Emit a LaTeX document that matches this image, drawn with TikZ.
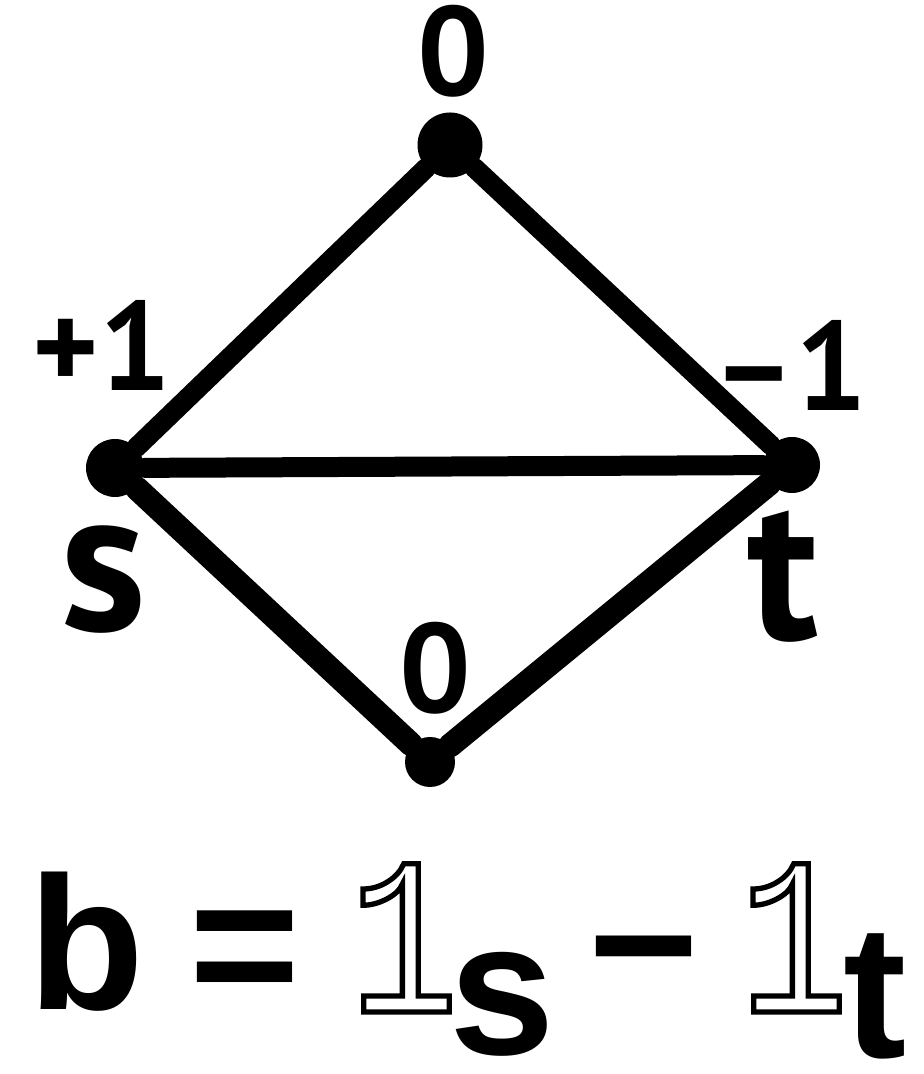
\documentclass[tikz,border=0pt]{standalone}
\usepackage{fontspec}
\newfontfamily\lblfont{PT Sans}
\newfontfamily\eqfont{Liberation Sans}
\newfontfamily\indfont[FakeStretch=0.8]{Liberation Mono}
\newcommand{\indic}{\special{pdf:literal direct 1 Tr 1.5 w}1\special{pdf:literal direct 0 Tr}}

\begin{document}
\begin{tikzpicture}[vert/.style={circle,fill=black,inner sep=0pt},
  edge/.style={line width=2mm,line cap=round},
  lbl/.style={font=\lblfont\bfseries\fontsize{36}{36}\selectfont,inner sep=0pt},
  big/.style={font=\lblfont\bfseries\fontsize{58}{58}\selectfont,inner sep=0pt},
  eq/.style={font=\eqfont\bfseries\fontsize{54}{54}\selectfont,inner sep=0pt,anchor=base},
  ind/.style={inner sep=0pt,anchor=base,font=\indfont\fontsize{64}{64}\selectfont}]
  \useasboundingbox (0,0) rectangle (9.23,10.74);
  \node[vert,minimum size=6.5mm] (top) at (4.50,9.29) {};
  \node[vert,minimum size=5.8mm] (s) at (1.15,6.06) {};
  \node[vert,minimum size=5.6mm] (t) at (7.92,6.09) {};
  \node[vert,minimum size=5.0mm] (bot) at (4.30,3.12) {};
  \draw[edge] (s) -- (top);
  \draw[edge] (top) -- (t);
  \draw[edge] (s) -- (t);
  \draw[edge,line width=2.4mm] (s) -- (bot);
  \draw[edge,line width=2.4mm] (bot) -- (t);
  \node[lbl] (ltop) at (4.53,10.23) {0};
  \node[lbl] (ls) at (1.02,7.29) {+1};
  \node[lbl] (lt) at (7.90,7.09) {–1};
  \node[lbl] (lbot) at (4.35,4.06) {0};
  \node[big] (ns) at (1.04,4.94) {s};
  \node[big] (nt) at (7.83,4.97) {t};
  \node[eq] (b) at (0.86,0.64) {b};
  \node[eq] (eqs) at (2.45,0.64) {=};
  \node[ind] (ones) at (4.04,0.62) {\indic};
  \node[eq] (subs) at (5.02,0.19) {s};
  \node[eq] (minus) at (6.44,0.64) {−};
  \node[ind] (onet) at (7.94,0.62) {\indic};
  \node[eq] (subt) at (8.75,0.16) {t};
\end{tikzpicture}
\end{document}
